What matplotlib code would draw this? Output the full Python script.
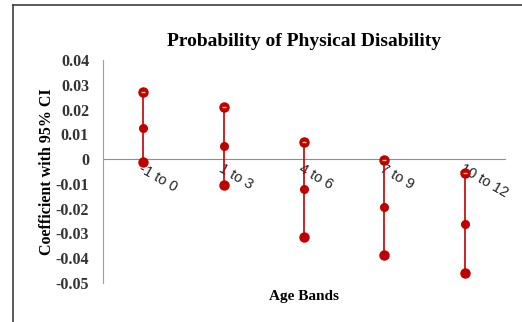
import matplotlib.pyplot as plt
from matplotlib.lines import Line2D
import numpy as np

# Age bands and coefficient with 95% CI (upper, point, lower)
age_bands = ['-1 to 0', '1 to 3', '4 to 6', '7 to 9', '10 to 12']
upper = [0.0271, 0.0210, 0.0069, -0.0004, -0.0057]
coef = [0.0125, 0.0053, -0.0120, -0.0194, -0.0260]
lower = [-0.0012, -0.0105, -0.0316, -0.0385, -0.0460]
yticks = [0.04, 0.03, 0.02, 0.01, 0, -0.01, -0.02, -0.03, -0.04, -0.05]
ytick_labels = ['0.04', '0.03', '0.02', '0.01', '0', '-0.01', '-0.02', '-0.03', '-0.04', '-0.05']

red = '#C00000'
serif = ['Liberation Serif', 'DejaVu Serif']
sans = ['Liberation Sans', 'DejaVu Sans']

fig = plt.figure(figsize=(5.22, 3.22), dpi=100)
ax = fig.add_axes([0.1973, 0.1211, 0.7701, 0.6926])

x = np.arange(len(age_bands))
ax.vlines(x, lower, upper, color=red, lw=1.2, zorder=2)
ax.plot(x, upper, 'o', color=red, ms=6.5, zorder=3)
ax.plot(x, upper, '_', color='#F0C870', ms=3, mew=1, zorder=4)
ax.plot(x, coef, 'o', color=red, ms=5.5, zorder=3)
ax.plot(x, lower, 'o', color=red, ms=6.5, zorder=3)

ax.set_xlim(-0.5, len(age_bands) - 0.5)
ax.set_ylim(-0.05, 0.04)

ax.spines['top'].set_visible(False)
ax.spines['right'].set_visible(False)
ax.spines['left'].set_color('#A0A0A0')
ax.spines['bottom'].set_color('#909090')
ax.spines['bottom'].set_position(('data', 0))
ax.spines['bottom'].set_zorder(1)

ax.set_yticks(yticks)
ax.set_yticklabels(ytick_labels, fontfamily=serif, fontweight='bold', fontsize=11.5, color='#333333')
ax.tick_params(axis='y', length=0, pad=10)

ax.set_xticks(x)
ax.set_xticklabels(age_bands, fontfamily=sans, fontsize=10.5, color='#222222',
                   rotation=-30, ha='left', va='top', rotation_mode='anchor')
ax.tick_params(axis='x', length=0, pad=2)

ax.set_title('Probability of Physical Disability', fontfamily=serif, fontweight='bold',
             fontsize=14, pad=10)
ax.set_ylabel('Coefficient with 95% CI', fontfamily=serif, fontweight='bold', fontsize=11.5)
ax.yaxis.set_label_coords(-0.12, 0.5)
ax.set_xlabel('Age Bands', fontfamily=serif, fontweight='bold', fontsize=11)
ax.xaxis.set_label_coords(0.5, -0.03)

# partial chart frame (top and left edges visible)
fig.add_artist(Line2D([13 / 522, 13 / 522], [0, 1 - 5 / 322], color='#404040', lw=1.2,
                      transform=fig.transFigure))
fig.add_artist(Line2D([13 / 522, 1], [1 - 5 / 322, 1 - 5 / 322], color='#404040', lw=1.2,
                      transform=fig.transFigure))

fig.savefig('out.png', dpi=100)
